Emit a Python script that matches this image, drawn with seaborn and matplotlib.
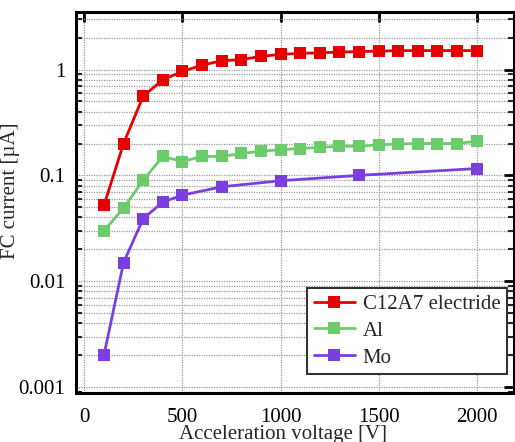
import numpy as np
import pandas as pd
import matplotlib
matplotlib.use("Agg")
import matplotlib.pyplot as plt
from matplotlib.ticker import LogLocator, FixedLocator, NullFormatter, FixedFormatter
import seaborn as sns

# ---- data ----
c12a7_x = [100, 200, 300, 400, 500, 600, 700, 800, 900, 1000, 1100, 1200, 1300, 1400,
           1500, 1600, 1700, 1800, 1900, 2000]
c12a7_y = [0.052, 0.20, 0.56, 0.80, 0.96, 1.10, 1.21, 1.24, 1.33, 1.39, 1.42, 1.44, 1.46,
           1.48, 1.49, 1.51, 1.51, 1.51, 1.51, 1.51]
al_x = [100, 200, 300, 400, 500, 600, 700, 800, 900, 1000, 1100, 1200, 1300, 1400,
        1500, 1600, 1700, 1800, 1900, 2000]
al_y = [0.030, 0.049, 0.090, 0.151, 0.135, 0.151, 0.151, 0.161, 0.169, 0.175, 0.179,
        0.184, 0.188, 0.188, 0.195, 0.198, 0.200, 0.200, 0.200, 0.210]
mo_x = [100, 200, 300, 400, 500, 700, 1000, 1400, 2000]
mo_y = [0.0020, 0.015, 0.039, 0.056, 0.065, 0.078, 0.089, 0.100, 0.116]

series_names = ["C12A7 electride", "Al", "Mo"]
colors = ["#e60000", "#6ccc6c", "#7b3fe0"]
x_ticks = [0, 500, 1000, 1500, 2000]
y_ticks = [0.001, 0.01, 0.1, 1]
y_tick_labels = ["0.001", "0.01", "0.1", "1"]

df = pd.concat([
    pd.DataFrame({"V": c12a7_x, "I": c12a7_y, "mat": series_names[0]}),
    pd.DataFrame({"V": al_x, "I": al_y, "mat": series_names[1]}),
    pd.DataFrame({"V": mo_x, "I": mo_y, "mat": series_names[2]}),
], ignore_index=True)

sns.set_theme(style="white")
plt.rcParams["font.family"] = ["Liberation Serif", "DejaVu Serif"]

fig = plt.figure(figsize=(5.15, 4.42), dpi=100)
ax = fig.add_axes([0.1485, 0.111, 0.998 - 0.1485, 0.973 - 0.111])

sns.lineplot(data=df, x="V", y="I", hue="mat", hue_order=series_names,
             palette=colors, marker="s", markersize=8, markeredgewidth=0,
             linewidth=2, sort=False, estimator=None, ax=ax)

ax.set_yscale("log")
ax.set_xlim(-40, 2190)
ax.set_ylim(0.00088, 3.5)

ax.xaxis.set_major_locator(FixedLocator(x_ticks))
ax.yaxis.set_major_locator(FixedLocator(y_ticks))
ax.yaxis.set_major_formatter(FixedFormatter(y_tick_labels))
ax.yaxis.set_minor_locator(LogLocator(base=10, subs=np.arange(2, 10)))
ax.yaxis.set_minor_formatter(NullFormatter())

ax.grid(True, which="major", axis="both", color="#999999", linestyle=(0, (1, 1)), linewidth=0.9)
ax.grid(True, which="minor", axis="y", color="#999999", linestyle=(0, (1, 1)), linewidth=0.9)
ax.set_axisbelow(True)

for s in ax.spines.values():
    s.set_visible(True)
    s.set_color("black")
    s.set_linewidth(2.2)

ax.tick_params(axis="both", which="major", direction="in", length=7, width=2,
               top=True, right=True, labelsize=15, colors="black", pad=8)
ax.tick_params(axis="y", which="minor", direction="in", length=4.5, width=1.5,
               left=True, right=True)
ax.tick_params(axis="x", which="major", pad=11)

ax.set_xlabel("Acceleration voltage [V]", fontsize=15)
ax.set_ylabel("FC current [µA]", fontsize=15)
ax.xaxis.set_label_coords(0.473, -0.083)
ax.yaxis.set_label_coords(-0.128, 0.53)

handles, labels = ax.get_legend_handles_labels()
leg = ax.legend(handles, labels, loc="lower right", fontsize=15, frameon=True,
                fancybox=False, edgecolor="#333333", framealpha=1,
                handlelength=2.0, handletextpad=0.35, labelspacing=0.35,
                borderpad=0.3, borderaxespad=0, bbox_to_anchor=(0.983, 0.05))
leg.get_frame().set_linewidth(1.5)

fig.savefig("out.png", dpi=100)
